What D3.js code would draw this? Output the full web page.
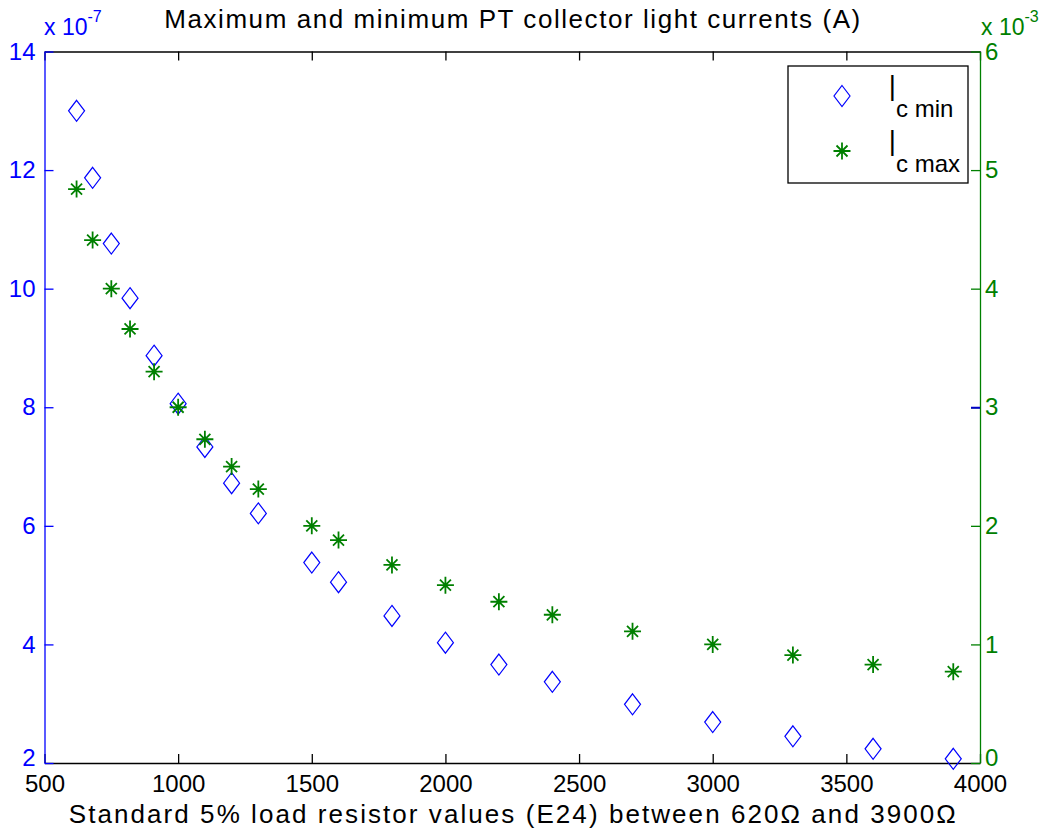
<!DOCTYPE html>
<html>
<head>
<meta charset="utf-8">
<script src="https://cdn.jsdelivr.net/npm/d3@7"></script>
<style>
  html, body { margin: 0; padding: 0; background: #fff; }
  svg text { font-family: "Liberation Sans", Arial, Helvetica, sans-serif; }
</style>
</head>
<body>
<svg id="chart" width="1045" height="839"></svg>
<script>
// E24 load resistors (ohms) between 620 and 3900
const resistors = [620, 680, 750, 820, 910, 1000, 1100, 1200, 1300, 1500,
                   1600, 1800, 2000, 2200, 2400, 2700, 3000, 3300, 3600, 3900];
// Minimum collector light current, in units of 1e-7 A
const icMin = [13.0, 11.87, 10.76, 9.84, 8.87, 8.06, 7.33, 6.72, 6.21, 5.38,
               5.05, 4.48, 4.03, 3.66, 3.37, 2.99, 2.69, 2.45, 2.24, 2.07];
// Maximum collector light current, in units of 1e-3 A
const icMax = [4.84, 4.41, 4.00, 3.66, 3.30, 3.00, 2.73, 2.50, 2.31, 2.00,
               1.88, 1.67, 1.50, 1.36, 1.25, 1.11, 1.00, 0.91, 0.83, 0.77];

const xTicks = [500, 1000, 1500, 2000, 2500, 3000, 3500, 4000];
const leftTicks = [2, 4, 6, 8, 10, 12, 14];
const rightTicks = [0, 1, 2, 3, 4, 5, 6];

const titleText = "Maximum and minimum PT collector light currents (A)";
const xLabelText = "Standard 5% load resistor values (E24) between 620\u03A9 and 3900\u03A9";

const BLUE = "#0000ff";
const GREEN = "#008000";
const BLACK = "#000000";

const L = 44.5, R = 980, T = 51.5, B = 763;
const TICK = 9;
const FONT = 24;

const svg = d3.select("#chart");

const x = d3.scaleLinear().domain([500, 4000]).range([L, R]);
const yL = d3.scaleLinear().domain([2, 14]).range([B, T]);
const yR = d3.scaleLinear().domain([0, 6]).range([B, T]);

function styleAxis(g, color) {
  g.selectAll("path.domain").attr("stroke", color).attr("stroke-width", 1.3);
  g.selectAll(".tick line").attr("stroke", color).attr("stroke-width", 1.3);
  g.selectAll(".tick text").attr("fill", color).attr("font-size", FONT)
    .attr("font-family", "Liberation Sans, Arial, sans-serif");
}

// Bottom (black) axis with labels
const gBottom = svg.append("g").attr("transform", `translate(0,${B})`)
  .call(d3.axisBottom(x).tickValues(xTicks).tickFormat(d3.format("d"))
        .tickSizeInner(-TICK).tickSizeOuter(0).tickPadding(12));
styleAxis(gBottom, BLACK);

// Top (black) axis, ticks only
const gTop = svg.append("g").attr("transform", `translate(0,${T})`)
  .call(d3.axisTop(x).tickValues(xTicks).tickFormat("")
        .tickSizeInner(-TICK).tickSizeOuter(0));
styleAxis(gTop, BLACK);

// Left (blue) axis for Ic min
const gLeft = svg.append("g").attr("transform", `translate(${L},0)`)
  .call(d3.axisLeft(yL).tickValues(leftTicks).tickFormat(d3.format("d"))
        .tickSizeInner(-TICK).tickSizeOuter(0).tickPadding(9));
styleAxis(gLeft, BLUE);

// Right (green) axis for Ic max
const gRight = svg.append("g").attr("transform", `translate(${R},0)`)
  .call(d3.axisRight(yR).tickValues(rightTicks).tickFormat(d3.format("d"))
        .tickSizeInner(-TICK).tickSizeOuter(0).tickPadding(5));
styleAxis(gRight, GREEN);

// The lowest labels sit just above the x tick labels
gLeft.selectAll(".tick text").filter(d => d === 2).attr("dy", "0.12em");
gRight.selectAll(".tick text").filter(d => d === 0).attr("dy", "0.12em");

// The left axis tick at 8 also shows on the right edge, over the green tick
const gMirror = svg.append("g").attr("transform", `translate(${R},0)`)
  .call(d3.axisLeft(yL).tickValues([8]).tickFormat("")
        .tickSizeInner(TICK).tickSizeOuter(0));
gMirror.select("path.domain").remove();
gMirror.selectAll(".tick line").attr("stroke", "#0000c8").attr("stroke-width", 2);

// Exponent labels
function exponent(xPos, sup, color) {
  const t = svg.append("text").attr("x", xPos).attr("y", 35)
    .attr("fill", color).attr("font-size", 23);
  t.append("tspan").text("x 10");
  t.append("tspan").attr("font-size", 16).attr("dy", -13).text(sup);
}
exponent(44, "-7", BLUE);
exponent(981, "-3", GREEN);

// Title and x label
svg.append("text").attr("x", (L + R) / 2).attr("y", 28)
  .attr("text-anchor", "middle").attr("font-size", 26).attr("fill", BLACK)
  .attr("textLength", 696).attr("lengthAdjust", "spacing")
  .text(titleText);
svg.append("text").attr("x", (L + R) / 2).attr("y", 823)
  .attr("text-anchor", "middle").attr("font-size", 26).attr("fill", BLACK)
  .attr("textLength", 887).attr("lengthAdjust", "spacing")
  .text(xLabelText);

// Marker shapes
const diamondPath = "M0,-10.5L8,0L0,10.5L-8,0Z";
const starPath = "M-8.5,0H8.5M0,-8.5V8.5M-5.5,-5.5L5.5,5.5M-5.5,5.5L5.5,-5.5";

const plot = svg.append("g");

// Ic min diamonds (left axis)
plot.append("g").selectAll("path")
  .data(resistors.map((r, i) => [r, icMin[i]]))
  .join("path")
  .attr("transform", d => `translate(${x(d[0])},${yL(d[1])})`)
  .attr("d", diamondPath)
  .attr("fill", "none").attr("stroke", BLUE).attr("stroke-width", 1.2);

// Ic max stars (right axis)
plot.append("g").selectAll("path")
  .data(resistors.map((r, i) => [r, icMax[i]]))
  .join("path")
  .attr("transform", d => `translate(${x(d[0])},${yR(d[1])})`)
  .attr("d", starPath)
  .attr("fill", "none").attr("stroke", GREEN).attr("stroke-width", 1.8);

// Legend
const legend = svg.append("g");
legend.append("rect").attr("x", 788).attr("y", 66).attr("width", 180).attr("height", 117)
  .attr("fill", "#fff").attr("stroke", BLACK).attr("stroke-width", 1.3);

const entries = [
  { sub: "c min", path: diamondPath, color: BLUE, sw: 1.2 },
  { sub: "c max", path: starPath, color: GREEN, sw: 1.8 }
];
entries.forEach((e, i) => {
  const cy = 96 + i * 55;
  legend.append("path").attr("transform", `translate(842,${cy})`)
    .attr("d", e.path).attr("fill", "none").attr("stroke", e.color).attr("stroke-width", e.sw);
  legend.append("text").attr("transform", `translate(889,${cy + 5}) scale(1,1.55)`)
    .attr("font-size", FONT).attr("fill", BLACK).text("I");
  legend.append("text").attr("x", 896).attr("y", cy + 21)
    .attr("font-size", FONT).attr("fill", BLACK).text(e.sub);
});
</script>
</body>
</html>
